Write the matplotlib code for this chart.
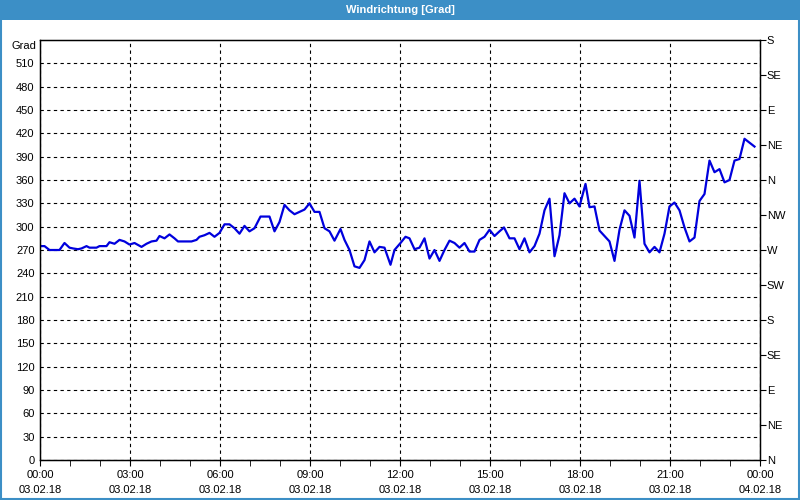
import matplotlib
matplotlib.use('Agg')
import matplotlib.pyplot as plt
from matplotlib.patches import Rectangle
from datetime import datetime, timedelta

# minutes after 03.02.18 00:00, wind direction in degrees
minutes = [0, 9, 19, 39, 49, 59, 66, 76, 83, 93, 99, 113, 119, 133, 139, 149, 159, 169, 179, 189,
           203, 213, 223, 233, 239, 249, 259, 269, 276, 303, 313, 319, 329, 339, 349, 359,
           369, 379, 389, 399, 409, 419, 429, 441, 459, 469, 479, 489, 499, 509, 519, 529,
           539, 549, 559, 569, 579, 589, 601, 609, 619, 629, 639, 649, 659, 669, 679, 689,
           701, 709, 721, 731, 739, 749, 759, 769, 779, 789, 799, 809, 819, 829, 839, 849,
           859, 869, 879, 889, 899, 909, 919, 928, 939, 949, 959, 969, 979, 989, 999, 1009,
           1019, 1029, 1039, 1049, 1059, 1069, 1079, 1091, 1099, 1109, 1119, 1129, 1139,
           1149, 1159, 1169, 1179, 1189, 1199, 1209, 1219, 1229, 1239, 1249, 1259, 1269,
           1279, 1289, 1299, 1309, 1319, 1329, 1339, 1349, 1359, 1369, 1379, 1389, 1399,
           1409, 1419, 1429]
grad = [275, 275, 270, 270, 279, 273, 272, 271, 272, 275, 273, 273, 275, 275, 280, 278, 283, 281, 277, 279,
        274, 278, 281, 282, 288, 285, 290, 285, 281, 281, 283, 287, 289, 292, 287, 292,
        303, 303, 298, 291, 301, 294, 298, 313, 313, 294, 306, 328, 321, 316, 319, 322,
        330, 319, 319, 298, 294, 282, 297, 283, 270, 249, 247, 257, 281, 267, 274, 273,
        251, 270, 279, 287, 285, 271, 273, 285, 259, 270, 256, 270, 282, 279, 273, 279,
        268, 268, 283, 287, 296, 288, 294, 299, 285, 285, 271, 285, 267, 275, 291, 321,
        336, 262, 289, 343, 330, 336, 326, 355, 325, 326, 295, 288, 281,
        256, 296, 321, 314, 286, 359, 278, 267, 274, 267, 291, 326, 331,
        321, 299, 281, 286, 333, 342, 385, 370, 374, 357, 360, 385, 387,
        413, 408, 403]

left_ticks = list(range(0, 511, 30))
right_ticks = list(range(0, 541, 45))
right_labels = ['N', 'NE', 'E', 'SE', 'S', 'SW', 'W', 'NW', 'N', 'NE', 'E', 'SE', 'S']
hour_ticks = list(range(0, 25, 3))

blue_bar = '#3c8fc6'
plt.rcParams['font.family'] = ['Liberation Sans', 'DejaVu Sans']
plt.rcParams['font.size'] = 8

fig = plt.figure(figsize=(8, 5), dpi=100)
fig.patch.set_facecolor('white')

# title bar and window frame
fig.patches.append(Rectangle((0, 0.96), 1, 0.04, transform=fig.transFigure,
                             facecolor=blue_bar, edgecolor='none'))
fig.patches.append(Rectangle((0.001, 0.002), 0.998, 0.997, transform=fig.transFigure,
                             facecolor='none', edgecolor=blue_bar, linewidth=1.5))
fig.text(0.5, 0.98, 'Windrichtung [Grad]', color='white', fontweight='bold',
         ha='center', va='center', fontsize=8)

ax = fig.add_axes([0.05, 0.08, 0.9, 0.84])
hours = [m / 60 for m in minutes]
ax.plot(hours, grad, color='#0000dd', linewidth=1.6)

ax.set_xlim(0, 24)
ax.set_ylim(0, 540)
ax.set_yticks(left_ticks)
ax.set_xticks(hour_ticks)
ax.set_xticks(range(0, 25), minor=True)
base = datetime(2018, 2, 3)
ax.set_xticklabels([(base + timedelta(hours=h)).strftime('%H:%M\n%d.%m.%y') for h in hour_ticks],
                   linespacing=1.6)
ax.tick_params(axis='y', length=0, pad=4)
ax.tick_params(axis='x', which='both', length=4, direction='out', pad=3)
ax.grid(True, color='black', linestyle=(0, (3, 3)), linewidth=0.8)
for s in ax.spines.values():
    s.set_linewidth(1.0)

ax2 = ax.twinx()
ax2.set_ylim(0, 540)
ax2.set_yticks(right_ticks)
ax2.set_yticklabels(right_labels)
ax2.tick_params(axis='y', length=4, pad=1)

fig.text(36 / 800, 1 - 46 / 500, 'Grad', ha='right', va='center')

fig.savefig('out.png', dpi=100)
